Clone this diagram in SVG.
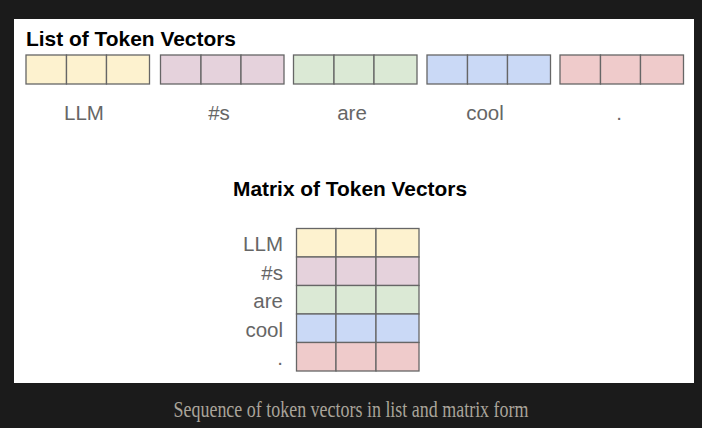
<svg xmlns="http://www.w3.org/2000/svg" width="702" height="428" viewBox="0 0 702 428">
<style>
.cell{stroke:#666;stroke-width:1.3}
.y{fill:#fdf2cf}.p{fill:#e5d2dc}.g{fill:#dbe9d5}.b{fill:#cad9f6}.r{fill:#efcbcb}
.lbl{font-family:"Liberation Sans",Arial,sans-serif;font-size:20.5px;fill:#666}
.ttl{font-family:"Liberation Sans",Arial,sans-serif;font-size:21px;font-weight:bold;fill:#000}
.cap{font-family:"Liberation Serif","Times New Roman",serif;font-size:23px;fill:#a9a49a}
</style>
<defs>
<g id="vec">
<rect class="cell" x="0" y="0" width="40.5" height="29"/>
<rect class="cell" x="40.5" y="0" width="40" height="29"/>
<rect class="cell" x="80.5" y="0" width="43" height="29"/>
</g>
<g id="row">
<rect class="cell" x="0" y="0" width="39.5" height="28.5"/>
<rect class="cell" x="39.5" y="0" width="40" height="28.5"/>
<rect class="cell" x="79.5" y="0" width="43" height="28.5"/>
</g>
</defs>
<rect x="0" y="0" width="702" height="428" fill="#1b1b1b"/>
<rect x="14" y="19" width="680" height="364" fill="#fff"/>
<text class="ttl" x="26" y="45.5" textLength="210" lengthAdjust="spacingAndGlyphs">List of Token Vectors</text>
<g id="list">
<g id="vec-llm" class="y"><use href="#vec" x="26" y="55"/><text class="lbl" x="84" y="120" text-anchor="middle">LLM</text></g>
<g id="vec-s" class="p"><use href="#vec" x="160.5" y="55"/><text class="lbl" x="219" y="120" text-anchor="middle">#s</text></g>
<g id="vec-are" class="g"><use href="#vec" x="293.5" y="55"/><text class="lbl" x="352" y="120" text-anchor="middle">are</text></g>
<g id="vec-cool" class="b"><use href="#vec" x="427" y="55"/><text class="lbl" x="485" y="120" text-anchor="middle">cool</text></g>
<g id="vec-dot" class="r"><use href="#vec" x="560" y="55"/><text class="lbl" x="619" y="120" text-anchor="middle">.</text></g>
</g>
<text class="ttl" x="350" y="196" text-anchor="middle" textLength="234" lengthAdjust="spacingAndGlyphs">Matrix of Token Vectors</text>
<g id="matrix">
<g id="row-llm" class="y"><use href="#row" x="296.5" y="228.5"/><text class="lbl" x="283" y="251" text-anchor="end">LLM</text></g>
<g id="row-s" class="p"><use href="#row" x="296.5" y="257"/><text class="lbl" x="283" y="280" text-anchor="end">#s</text></g>
<g id="row-are" class="g"><use href="#row" x="296.5" y="285.5"/><text class="lbl" x="283" y="308" text-anchor="end">are</text></g>
<g id="row-cool" class="b"><use href="#row" x="296.5" y="314"/><text class="lbl" x="283" y="337" text-anchor="end">cool</text></g>
<g id="row-dot" class="r"><use href="#row" x="296.5" y="342.5"/><text class="lbl" x="283" y="365" text-anchor="end">.</text></g>
</g>
<g id="connectors"/>
<text class="cap" x="351" y="417" text-anchor="middle" textLength="355" lengthAdjust="spacingAndGlyphs">Sequence of token vectors in list and matrix form</text>
</svg>
